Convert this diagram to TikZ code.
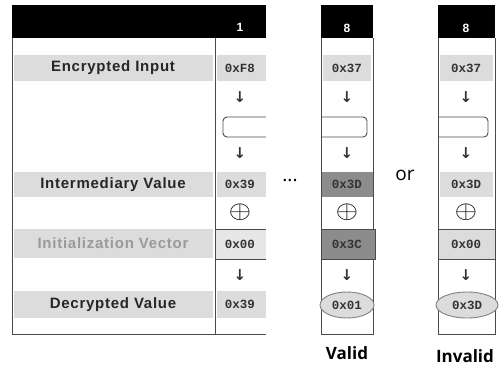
\documentclass[tikz,border=0pt]{standalone}
\usepackage{fontspec}
\setmainfont{Liberation Sans}
\newfontfamily\lblfont[LetterSpace=5]{Liberation Sans}
\newfontfamily\hexfont{Liberation Mono}
\newfontfamily\notefont{Open Sans}
\newfontfamily\symfont{DejaVu Sans}
\usetikzlibrary{shapes.geometric}

\definecolor{bandgray}{HTML}{DCDCDC}
\definecolor{cellgray}{HTML}{8C8C8C}
\definecolor{rulegray}{HTML}{4A4A4A}
\definecolor{ivgray}{HTML}{9A9A9A}

\tikzset{
  lbl/.style={font=\lblfont\fontsize{15}{15}\selectfont\bfseries, text=black!85},
  hex/.style={font=\hexfont\fontsize{12.5}{12.5}\selectfont\bfseries, text=black!80},
  hdr/.style={font=\fontsize{12}{12}\selectfont\bfseries, text=white},
  arr/.style={font=\symfont\fontsize{15}{15}\selectfont\bfseries, text=black!80},
  xor/.style={font=\fontsize{26}{26}\selectfont, xscale=1.15},
  rule/.style={draw=rulegray, line width=0.9pt},
  oval/.style={ellipse, draw=gray, fill=bandgray, line width=0.9pt, inner sep=0pt, minimum height=26pt},
  note/.style={font=\notefont\fontsize{19}{19}\selectfont}
}

\begin{document}
\begin{tikzpicture}[x=1pt, y=-1pt]
\useasboundingbox (0,0) rectangle (504,365);

% left panel
\fill[black] (12,5) rectangle (266,38);
\foreach \ya/\yb in {55/81, 172/197, 291/318}{
  \fill[bandgray] (14,\ya) rectangle (213,\yb);
  \fill[bandgray] (217,\ya) rectangle (266,\yb);
}
\fill[bandgray] (14,229) rectangle (213,258);
\filldraw[fill=bandgray!70, rule] (266,229) -- (215,229) -- (215,259) -- (266,259);
\draw[rule] (12,38) -- (12,334) -- (266,334);
\draw[rule] (215,38) -- (215,334);
\draw[rule, rounded corners=4pt] (266,117) -- (223,117) -- (223,137) -- (266,137);

\node[hdr] (h1) at (240,27) {1};
\node[lbl] (ei) at (113,68) {Encrypted Input};
\node[lbl] (iv) at (113,184.5) {Intermediary Value};
\node[lbl, text=ivgray] (vec) at (113,243.5) {Initialization Vector};
\node[lbl] (dv) at (113,304.5) {Decrypted Value};
\node[hex] (c1a) at (240,68) {0xF8};
\node[arr] (c1b) at (240,97) {↓};
\node[arr] (c1c) at (240,153) {↓};
\node[hex] (c1d) at (240,184.5) {0x39};
\node[xor] (c1e) at (240,212) {$\oplus$};
\node[hex] (c1f) at (240,244) {0x00};
\node[arr] (c1g) at (240,275) {↓};
\node[hex] (c1h) at (240,304.5) {0x39};

% valid column
\fill[black] (321,5) rectangle (373,38);
\fill[bandgray] (323,55) rectangle (371,81);
\fill[cellgray] (321,172) rectangle (373,197);
\draw[rule] (321,38) -- (321,334) -- (373,334) -- (373,38);
\filldraw[fill=cellgray, rule] (321,229) rectangle (375,259);
\draw[rule, rounded corners=4pt] (321,117) -- (367,117) -- (367,137) -- (321,137);
\node[hdr] (h8a) at (347,28) {8};
\node[hex] (c8a) at (347,68) {0x37};
\node[arr] (c8b) at (347,97) {↓};
\node[arr] (c8c) at (347,153) {↓};
\node[hex] (c8d) at (347,184.5) {0x3D};
\node[xor] (c8e) at (347,212) {$\oplus$};
\node[hex] (c8f) at (347,244) {0x3C};
\node[arr] (c8g) at (347,275) {↓};
\node[oval, hex, minimum width=54pt] (c8h) at (347,305) {0x01};

% invalid column
\fill[black] (438,5) rectangle (495,38);
\fill[bandgray] (440,55) rectangle (493,81);
\fill[bandgray] (440,172) rectangle (493,197);
\draw[rule] (438,38) -- (438,334) -- (495,334) -- (495,38);
\filldraw[fill=bandgray, rule] (438,229) rectangle (495,259);
\draw[rule, rounded corners=4pt] (438,117) -- (488,117) -- (488,137) -- (438,137);
\node[hdr] (h8b) at (466,28) {8};
\node[hex] (d8a) at (466,68) {0x37};
\node[arr] (d8b) at (466,97) {↓};
\node[arr] (d8c) at (466,153) {↓};
\node[hex] (d8d) at (466,184.5) {0x3D};
\node[xor] (d8e) at (466,212) {$\oplus$};
\node[hex] (d8f) at (466,244) {0x00};
\node[arr] (d8g) at (466,275) {↓};
\node[oval, hex, minimum width=62pt] (d8h) at (467,305) {0x3D};

% notes
\node[note] (dots) at (290,181) {...};
\node[note] (or) at (405,175) {or};
\node[note, font=\notefont\fontsize{17}{17}\selectfont\bfseries] (ok) at (347,353) {Valid};
\node[note, font=\notefont\fontsize{17}{17}\selectfont\bfseries] (bad) at (465,356) {Invalid};
\end{tikzpicture}
\end{document}
